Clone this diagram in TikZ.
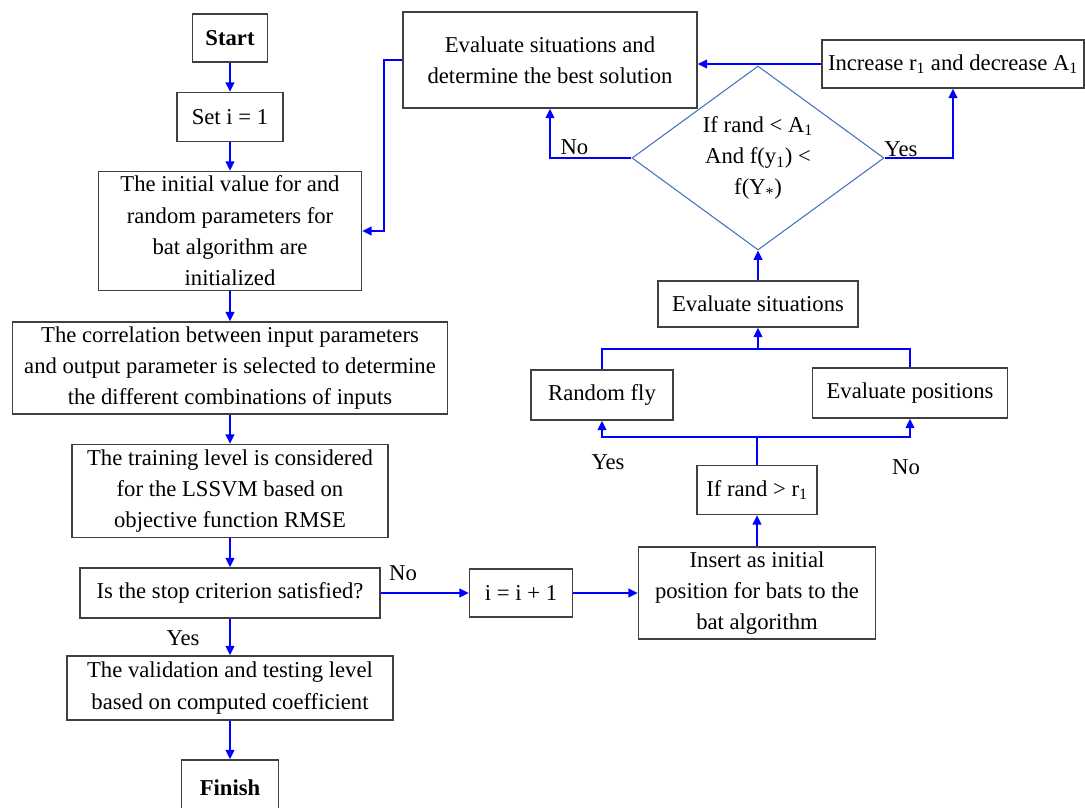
\documentclass[tikz,border=0pt]{standalone}
\usepackage{fontspec}
\setmainfont{Liberation Serif}
\usetikzlibrary{arrows.meta,shapes.geometric}

\newcommand{\boxfont}{\fontsize{17}{23.5}\selectfont}

\begin{document}
\begin{tikzpicture}[x=0.75pt, y=-0.75pt,
    box/.style={draw=black!75, line width=1.1pt, inner sep=0pt, align=center, font=\boxfont},
    sz/.style 2 args={minimum width=#1*0.75pt, minimum height=#2*0.75pt},
    flow/.style={draw=blue, line width=1.5pt, -{Triangle[length=7pt,width=6.5pt]}},
    link/.style={draw=blue, line width=1.5pt},
    lbl/.style={font=\boxfont, inner sep=2pt}]
    \useasboundingbox (0,0) rectangle (1085,807);

    % Main column
    \node [box, sz={75}{48}, font=\boxfont\bfseries] (start) at (230,38) {Start};
    \node [box, sz={106}{49}] (seti) at (230,117) {Set i = 1};
    \node [box, sz={263}{119}] (init) at (230,231) {The initial value for and\\random parameters for\\bat algorithm are\\initialized};
    \node [box, sz={435}{92}] (corr) at (230,368) {The correlation between input parameters\\and output parameter is selected to determine\\the different combinations of inputs};
    \node [box, sz={316}{93}] (train) at (230,491) {The training level is considered\\for the LSSVM based on\\objective function RMSE};
    \node [box, sz={300}{50}] (stop) at (230,593) {Is the stop criterion satisfied?};
    \node [box, sz={326}{64}] (valid) at (230,688) {The validation and testing level\\based on computed coefficient};
    \node [box, sz={97}{56}, font=\boxfont\bfseries] (finish) at (230,788) {Finish};

    % Bat algorithm
    \node [box, sz={103}{48}] (inci) at (521,593) {i = i + 1};
    \node [box, sz={237}{92}] (insert) at (757,593) {Insert as initial\\position for bats to the\\bat algorithm};
    \node [box, sz={120}{49}] (ifrand) at (757,490) {If rand > r\textsubscript{1}};
    \node [box, sz={142}{50}] (fly) at (602,395) {Random fly};
    \node [box, sz={195}{50}] (evalpos) at (910,393) {Evaluate positions};
    \node [box, sz={200}{46}] (evalsit) at (758,304) {Evaluate situations};
    \node [diamond, draw={rgb,255:red,68;green,114;blue,196}, line width=0.8pt, inner sep=0pt,
        aspect=1.37, sz={252}{184}, align=center, font=\boxfont] (check) at (758,158)
        {If rand < A\textsubscript{1}\\And f(y\textsubscript{1}) <\\f(Y\textsubscript{*})};
    \node [box, sz={294}{96}] (best) at (550,60) {Evaluate situations and\\determine the best solution};
    \node [box, sz={262}{48}] (incr) at (953,64) {Increase r\textsubscript{1} and decrease A\textsubscript{1}};

    % Main flow
    \draw [flow] (start) -- (seti);
    \draw [flow] (seti) -- (init);
    \draw [flow] (init) -- (corr);
    \draw [flow] (corr) -- (train);
    \draw [flow] (train) -- (stop);
    \draw [flow] (stop) -- (valid);
    \node [lbl] (yesstop) at (183,638) {Yes};
    \draw [flow] (valid) -- (finish);

    % Stop not satisfied
    \draw [flow] (stop) -- (inci);
    \node [lbl] (nostop) at (403,573) {No};
    \draw [flow] (inci) -- (insert);
    \draw [flow] (insert) -- (ifrand);

    % Split on rand > r1
    \draw [link] (ifrand.north) -- (ifrand.north |- 0,437) coordinate (split);
    \draw [flow] (split) -| (fly.south);
    \draw [flow] (split) -| (evalpos.south);
    \node [lbl] (yesfly) at (608,462) {Yes};
    \node [lbl] (nofly) at (906,467) {No};

    % Merge
    \coordinate (merge) at (evalsit.south |- 0,349);
    \draw [link] (fly.north) |- (merge);
    \draw [link] (evalpos.north) |- (merge);
    \draw [flow] (merge) -- (evalsit.south);
    \draw [flow] (evalsit) -- (check.south);

    % Decision
    \draw [flow] (check.west) -| node [lbl, pos=0.35, above] (nocheck) {No} (best.south);
    \draw [flow] (check.east) -| node [lbl, pos=0.12, above, inner sep=0pt] (yescheck) {Yes} (incr.south);
    \draw [flow] (incr.west) -- (incr.west -| best.east);
    \draw [flow] (best.west) -- ++(-18,0) |- (init.east);
\end{tikzpicture}
\end{document}
